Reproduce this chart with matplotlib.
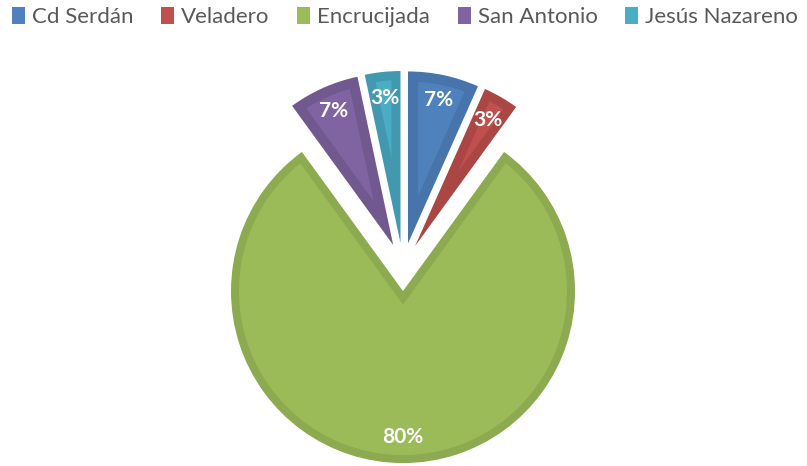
import numpy as np
import matplotlib
matplotlib.use("Agg")
import matplotlib.pyplot as plt
from matplotlib.patches import Patch, Polygon

# datos
localidades = ["Cd Serdán", "Veladero", "Encrucijada", "San Antonio", "Jesús Nazareno"]
valores = [2, 1, 24, 2, 1]
colores = ["#4F81BD", "#C0504D", "#9BBB59", "#8064A2", "#4BACC6"]
bordes = ["#4674AB", "#AA4643", "#8CAA50", "#71588F", "#4198AF"]
grosor_px = [10, 9, 8, 10, 9]

plt.rcParams["font.family"] = ["Lato", "DejaVu Sans"]

W, H = 807, 466
fig = plt.figure(figsize=(W / 100, H / 100), dpi=100)
ax = fig.add_axes([0, 0, 1, 1])

# centro y radio del pastel en pixeles
r_px = 172.0
cx, cy = 403.0, 267.0

wedges, textos, pcts = ax.pie(
    valores,
    colors=bordes,
    startangle=90,
    counterclock=False,
    explode=[0.14] * len(valores),
    autopct="%1.0f%%",
    pctdistance=0.85,
    radius=1,
    wedgeprops=dict(linewidth=0),
    textprops=dict(color="white", fontsize=15, fontweight="bold"),
)


def interior(w, b):
    # cuña interior desplazada b unidades hacia adentro (efecto bisel)
    A = np.array(w.center)
    R = w.r - b
    t1, t2 = np.radians(w.theta1), np.radians(w.theta2)
    half = (t2 - t1) / 2
    phi = (t1 + t2) / 2
    u = np.array([np.cos(phi), np.sin(phi)])
    d = b / abs(np.sin(half))
    c = np.cos(half)
    t = -d * c + np.sqrt(d * d * c * c - d * d + R * R)
    e1 = np.array([np.cos(t1), np.sin(t1)])
    e2 = np.array([np.cos(t2), np.sin(t2)])
    X1 = A + d * u + t * e1
    X2 = A + d * u + t * e2
    b1 = np.arctan2(*(X1 - A)[::-1])
    b2 = np.arctan2(*(X2 - A)[::-1])
    while b2 < b1:
        b2 += 2 * np.pi
    arc = np.linspace(b1, b2, 200)
    pts = [A + d * u] + [A + R * np.array([np.cos(a), np.sin(a)]) for a in arc]
    return np.array(pts)


for w, col, g in zip(wedges, colores, grosor_px):
    poly = Polygon(interior(w, g / r_px), closed=True, facecolor=col,
                   edgecolor="none", zorder=w.get_zorder() + 0.1)
    ax.add_patch(poly)

for p in pcts:
    p.set_zorder(5)

ax.set_xlim(-cx / r_px, (W - cx) / r_px)
ax.set_ylim(-(H - cy) / r_px, cy / r_px)
ax.set_aspect("auto")
ax.axis("off")

handles = [Patch(facecolor=c, edgecolor="none") for c in colores]
fig.legend(
    handles, localidades,
    loc="upper left",
    bbox_to_anchor=(12 / W, 1 - 12 / H, 786 / W, 0.01),
    mode="expand",
    ncol=5,
    frameon=False,
    handlelength=0.6,
    handleheight=0.75,
    handletextpad=0.3,
    borderaxespad=0,
    borderpad=0,
    prop=dict(size=16),
    labelcolor="#595959",
)

fig.savefig("out.png", dpi=100)
